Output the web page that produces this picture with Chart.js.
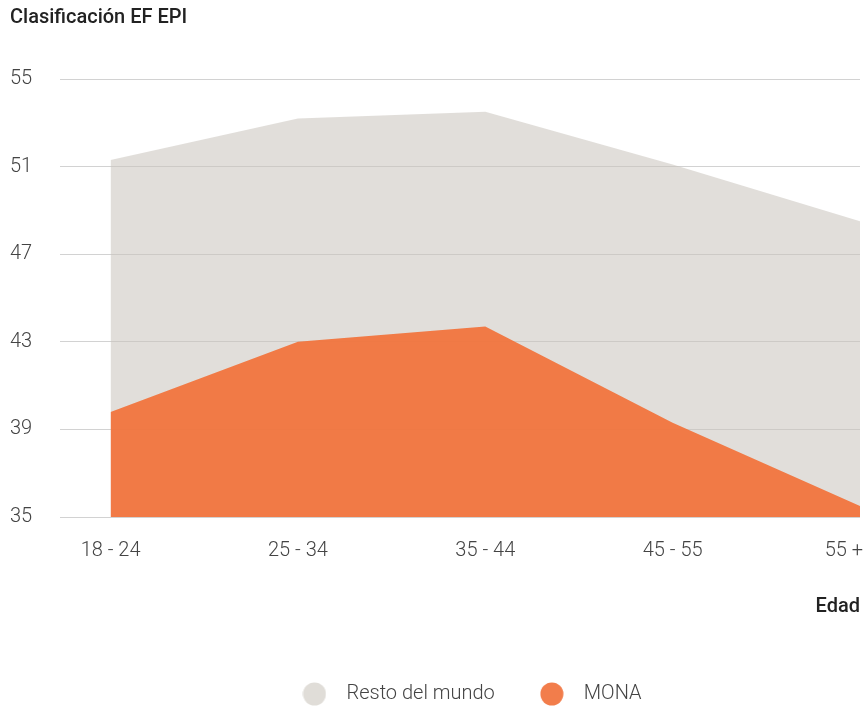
<!DOCTYPE html>
<html lang="es">
<head>
<meta charset="utf-8">
<title>Clasificación EF EPI por edad</title>
<script src="https://cdn.jsdelivr.net/npm/chart.js@4/dist/chart.umd.min.js"></script>
<style>
  html, body { margin: 0; padding: 0; background: #ffffff; }
  #wrap { width: 867px; height: 706px; position: relative; }
</style>
</head>
<body>
<div id="wrap"><canvas id="chart" width="867" height="706"></canvas></div>
<script>
// Age groups and EF EPI scores
const ageGroups = ['18 - 24', '25 - 34', '35 - 44', '45 - 55', '55 +'];
const restoDelMundo = [51.3, 53.2, 53.5, 51.1, 48.5];
const mona = [39.8, 43.0, 43.7, 39.3, 35.5];
const yTicks = [35, 39, 43, 47, 51, 55];

const FONT = 'Roboto, "Noto Sans", sans-serif';

// Round legend markers drawn on small canvases
function circleMarker(color) {
  const c = document.createElement('canvas');
  c.width = 24; c.height = 24;
  const g = c.getContext('2d');
  g.fillStyle = color;
  g.beginPath();
  g.arc(12, 12, 11.5, 0, Math.PI * 2);
  g.fill();
  return c;
}

const toPoints = arr => arr.map((v, i) => ({ x: i, y: v }));

// Keep the last age label inside the canvas and nudge the legend row
const labelTweaks = {
  id: 'labelTweaks',
  afterLayout(chart) {
    if (chart.legend) {
      chart.legend.left += 7;
      chart.legend.right += 7;
    }
  },
  beforeDraw(chart) {
    const items = chart.scales.x.getLabelItems();
    const last = items[items.length - 1];
    if (last) {
      last.options.textAlign = 'right';
      last.options.translation[0] = chart.width - 4;
    }
  }
};

new Chart(document.getElementById('chart'), {
  type: 'line',
  data: {
    datasets: [
      {
        label: 'Resto del mundo',
        data: toPoints(restoDelMundo),
        backgroundColor: 'rgba(200,194,187,0.55)',
        borderWidth: 0,
        pointRadius: 0,
        fill: 'start',
        tension: 0,
        order: 1,
        pointStyle: circleMarker('#e0ddd8')
      },
      {
        label: 'MONA',
        data: toPoints(mona),
        backgroundColor: 'rgba(242,114,58,0.92)',
        borderWidth: 0,
        pointRadius: 0,
        fill: 'start',
        tension: 0,
        order: 0,
        pointStyle: circleMarker('#f27d4b')
      }
    ]
  },
  plugins: [labelTweaks],
  options: {
    responsive: false,
    animation: false,
    layout: { padding: { left: 10, right: 7, top: 0, bottom: -8 } },
    plugins: {
      title: {
        display: true,
        text: 'Clasificación EF EPI',
        align: 'start',
        color: '#222222',
        font: { family: FONT, size: 20, weight: '500' },
        padding: { top: 6, bottom: 49 }
      },
      legend: {
        position: 'bottom',
        fullSize: false,
        labels: {
          sort: (a, b) => a.datasetIndex - b.datasetIndex,
          usePointStyle: true,
          pointStyleWidth: 44,
          boxHeight: 20,
          padding: 35,
          color: '#444444',
          font: { family: FONT, size: 20, weight: '300' }
        }
      },
      tooltip: { enabled: false }
    },
    scales: {
      x: {
        type: 'linear',
        min: -0.27,
        max: ageGroups.length - 1,
        grid: { display: false, drawTicks: false },
        border: { display: false },
        afterBuildTicks: scale => {
          scale.ticks = ageGroups.map((_, i) => ({ value: i }));
        },
        afterFit: scale => {
          scale.paddingLeft = 0;
          scale.paddingRight = 0;
        },
        ticks: {
          padding: 22,
          maxRotation: 0,
          autoSkip: false,
          color: '#444444',
          font: { family: FONT, size: 20, weight: '300' },
          callback: v => ageGroups[v]
        },
        title: {
          display: true,
          text: 'Edad',
          align: 'end',
          color: '#222222',
          font: { family: FONT, size: 20, weight: '500' },
          padding: { top: 10, bottom: 30 }
        }
      },
      y: {
        min: 35,
        max: 55,
        afterBuildTicks: scale => {
          scale.ticks = yTicks.map(v => ({ value: v }));
        },
        afterFit: scale => {
          scale.width = 50;
        },
        grid: { color: '#d2d2d2', drawTicks: false, lineWidth: 1 },
        border: { display: false },
        ticks: {
          crossAlign: 'far',
          padding: 0,
          color: '#444444',
          font: { family: FONT, size: 20, weight: '300' }
        }
      }
    }
  }
});
</script>
</body>
</html>
